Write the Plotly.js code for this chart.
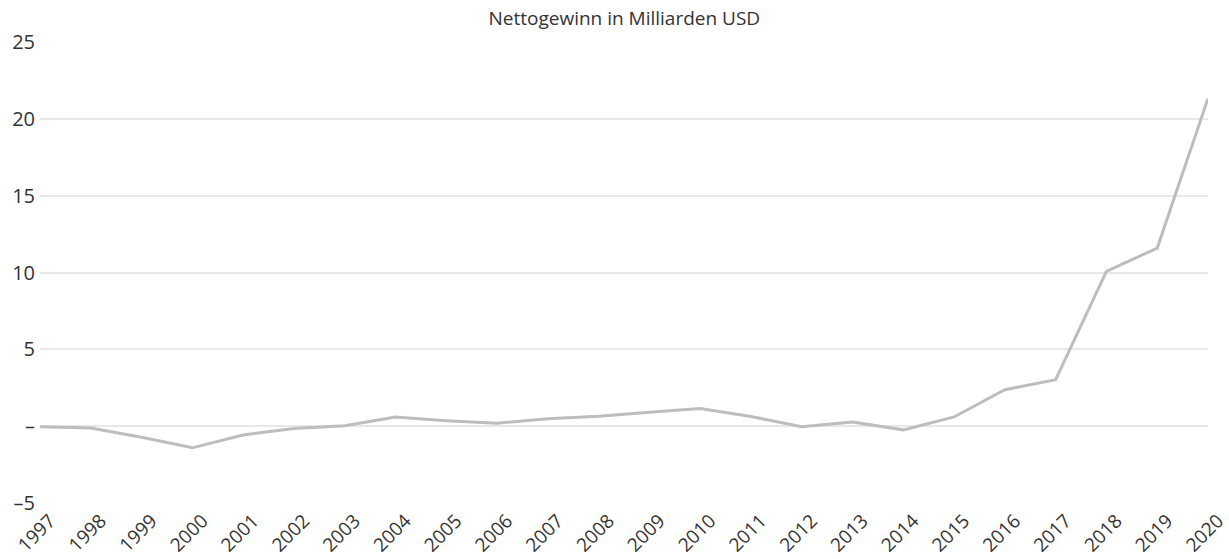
<!DOCTYPE html>
<html><head><meta charset="utf-8">
<script src="https://cdn.plot.ly/plotly-3.0.1.min.js"></script>
<style>html,body{margin:0;padding:0;background:#fff;}#chart{width:1229px;height:559px;}</style>
</head><body><div id="chart"></div>
<script>
const years = ['1997','1998','1999','2000','2001','2002','2003','2004','2005','2006','2007','2008','2009','2010','2011','2012','2013','2014','2015','2016','2017','2018','2019','2020'];
const netIncome = [-0.03,-0.12,-0.72,-1.41,-0.57,-0.15,0.03,0.59,0.36,0.19,0.48,0.64,0.90,1.15,0.63,-0.04,0.27,-0.24,0.60,2.37,3.03,10.07,11.59,21.33];
const yTickVals = [-5,0,5,10,15,20,25];
const yTickText = ['–5','–','5','10','15','20','25'];

Plotly.newPlot('chart', [{
  x: years, y: netIncome, type: 'scatter', mode: 'lines',
  line: {color: '#bdbdbd', width: 3},
  hoverinfo: 'x+y'
}], {
  width: 1229, height: 559,
  margin: {l: 40, r: 21, t: 42, b: 56},
  paper_bgcolor: '#fff', plot_bgcolor: '#fff',
  font: {family: '"Open Sans", Inter, sans-serif', color: '#333'},
  title: {text: 'Nettogewinn in Milliarden USD', x: 0.508, xanchor: 'center', y: 0.968, yanchor: 'middle', font: {size: 19, color: '#333'}},
  showlegend: false,
  xaxis: {type: 'category', tickangle: -45, showgrid: false, zeroline: false, showline: false, ticks: '', ticklabelshift: 10, ticklabelstandoff: 2, tickfont: {size: 19, color: '#333'}, range: [0, 23], fixedrange: true},
  yaxis: {range: [-5, 25], tickvals: yTickVals, ticktext: yTickText, showgrid: true, gridcolor: '#e8e8e8', gridwidth: 1.5, zeroline: false, showline: false, ticks: '', ticklabelstandoff: 4, tickfont: {size: 20, color: '#333'}, fixedrange: true}
}, {displayModeBar: false});
</script></body></html>
